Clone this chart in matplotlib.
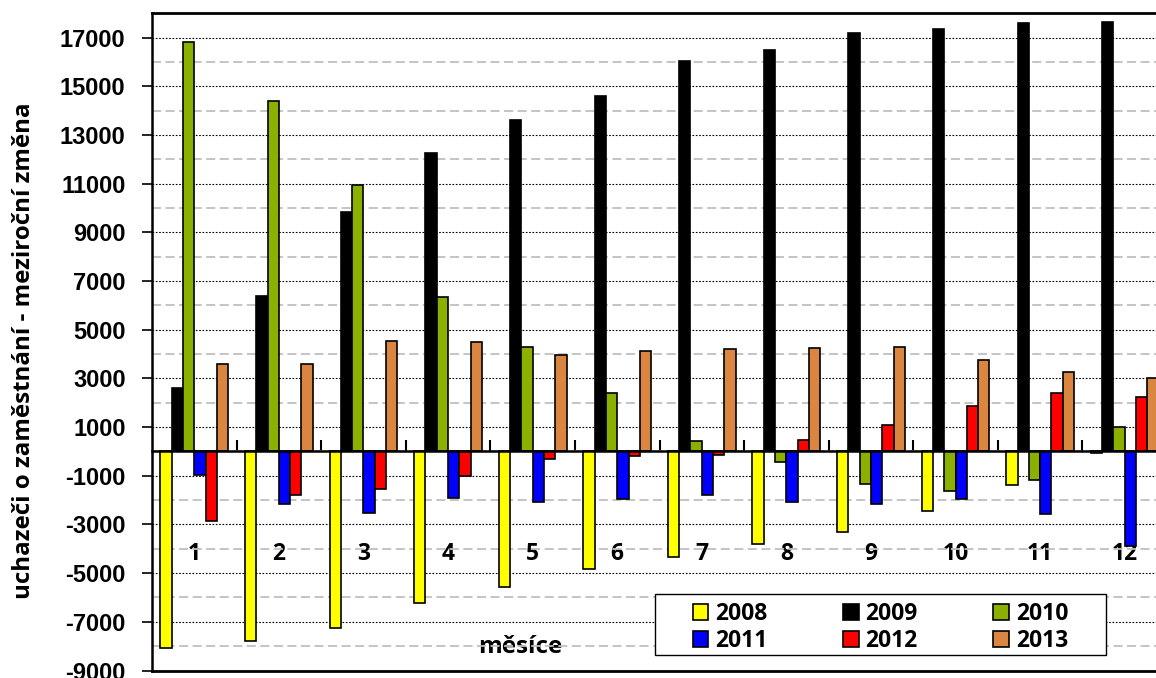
import matplotlib
matplotlib.use("Agg")
import matplotlib.pyplot as plt
from matplotlib.patches import Rectangle
from matplotlib.ticker import FixedLocator, NullFormatter
import numpy as np

# Year-on-year change in registered job seekers, by month
months = ["1", "2", "3", "4", "5", "6", "7", "8", "9", "10", "11", "12"]
years = ["2008", "2009", "2010", "2011", "2012", "2013"]

y2008 = [-8090, -7790, -7245, -6215, -5570, -4845, -4325, -3815, -3297, -2447, -1365, -60]
y2009 = [2600, 6400, 9830, 12255, 13610, 14610, 16020, 16490, 17200, 17365, 17610, 17650]
y2010 = [16830, 14380, 10940, 6360, 4280, 2390, 445, -420, -1325, -1610, -1185, 1020]
y2011 = [-980, -2160, -2515, -1900, -2075, -1940, -1790, -2060, -2170, -1965, -2555, -3870]
y2012 = [-2870, -1800, -1530, -1005, -320, -170, -140, 470, 1075, 1855, 2390, 2225]
y2013 = [3600, 3600, 4555, 4515, 3965, 4120, 4225, 4240, 4270, 3745, 3255, 3020]

series = [y2008, y2009, y2010, y2011, y2012, y2013]
colors = ["#FFFF00", "#000000", "#8CB000", "#0000FF", "#FF0000", "#DB8640"]

y_major = list(range(-9000, 18000, 2000))
y_minor = list(range(-8000, 18001, 2000))

TEXT_FONT = "Open Sans"

W, H = 1156, 678
fig = plt.figure(figsize=(W / 100, H / 100), dpi=100)
ax = fig.add_axes([152 / W, 1 - 670.5 / H, 1015 / W, 657.2 / H])

n = len(months)
x = np.arange(n) + 0.5
bw = 0.1336
for j, (vals, col) in enumerate(zip(series, colors)):
    ax.bar(x + (j - 2.5) * bw, vals, width=bw, color=col, edgecolor="black",
           linewidth=1.2, label=years[j], zorder=3)

ax.set_xlim(0, n)
ax.set_ylim(-9000, 18000)

# y axis: labelled major grid (dotted black) and minor grid (dashed grey)
ax.yaxis.set_major_locator(FixedLocator(y_major))
ax.yaxis.set_minor_locator(FixedLocator(y_minor))
ax.set_yticklabels([str(v) for v in y_major],
                   fontfamily="Liberation Sans", fontweight="bold", fontsize=17)
ax.yaxis.set_minor_formatter(NullFormatter())
ax.tick_params(axis="y", which="major", direction="out", length=7, width=1.2,
               pad=12, color="black")
ax.tick_params(axis="y", which="minor", length=0)
ax.grid(axis="y", which="major", color="black", linestyle=(0, (1.5, 1.5)), linewidth=0.8)
ax.grid(axis="y", which="minor", color="#BFBFBF", linestyle=(0, (5, 2.5)), linewidth=1.3)
ax.set_axisbelow(True)

# category axis runs along zero; boundary ticks point up, labels sit lower
ax.spines["bottom"].set_position(("data", 0))
ax.spines["bottom"].set_linewidth(1.8)
ax.spines["bottom"].set_zorder(4)
ax.spines["left"].set_linewidth(1.8)
ax.spines["top"].set_linewidth(2.0)
ax.spines["right"].set_visible(False)
ax.axhline(-9000, color="black", linewidth=2.0, clip_on=False, zorder=4)

ax.xaxis.set_major_locator(FixedLocator(np.arange(1, n)))
ax.xaxis.set_major_formatter(NullFormatter())
ax.xaxis.set_minor_locator(FixedLocator(x))
ax.set_xticklabels(months, minor=True, fontfamily=TEXT_FONT, fontweight="bold",
                   fontsize=16.5)
ax.tick_params(axis="x", which="major", direction="in", length=8, width=1.5, color="black")
ax.tick_params(axis="x", which="minor", length=0, pad=65)

ax.set_xlabel("měsíce", fontfamily=TEXT_FONT, fontweight="bold", fontsize=17.5)
ax.xaxis.set_label_coords((520 - 152) / 1015, 1 - (646.7 - 13.3) / 657.2)
ax.xaxis.label.set_va("center")

ax.set_ylabel("uchazeči o zaměstnání - meziroční změna", fontfamily=TEXT_FONT,
              fontweight="bold", fontsize=17.4)
ax.yaxis.set_label_coords((24 - 152) / 1015, 1 - (351 - 13.3) / 657.2)
ax.yaxis.label.set_va("center")

# legend box with wide side margins, entries laid out row by row
box = Rectangle((655 / W, 1 - 655 / H), (1106 - 655) / W, (655 - 594) / H,
                transform=fig.transFigure, facecolor="white", edgecolor="black",
                linewidth=1.0, zorder=5)
ax.add_patch(box)
box.set_clip_on(False)

handles, labels = ax.get_legend_handles_labels()
order = [0, 3, 1, 4, 2, 5]
leg = ax.legend([handles[i] for i in order], [labels[i] for i in order],
                loc="center", bbox_to_anchor=(880.5 / W, 1 - 627.5 / H),
                bbox_transform=fig.transFigure, ncol=3, frameon=False,
                prop={"family": TEXT_FONT, "weight": "bold", "size": 16.5},
                handlelength=0.68, handleheight=0.68, handletextpad=0.3,
                columnspacing=3.3, labelspacing=0.15, borderpad=0.25)
leg.set_zorder(6)

fig.savefig("out.png", dpi=100)
